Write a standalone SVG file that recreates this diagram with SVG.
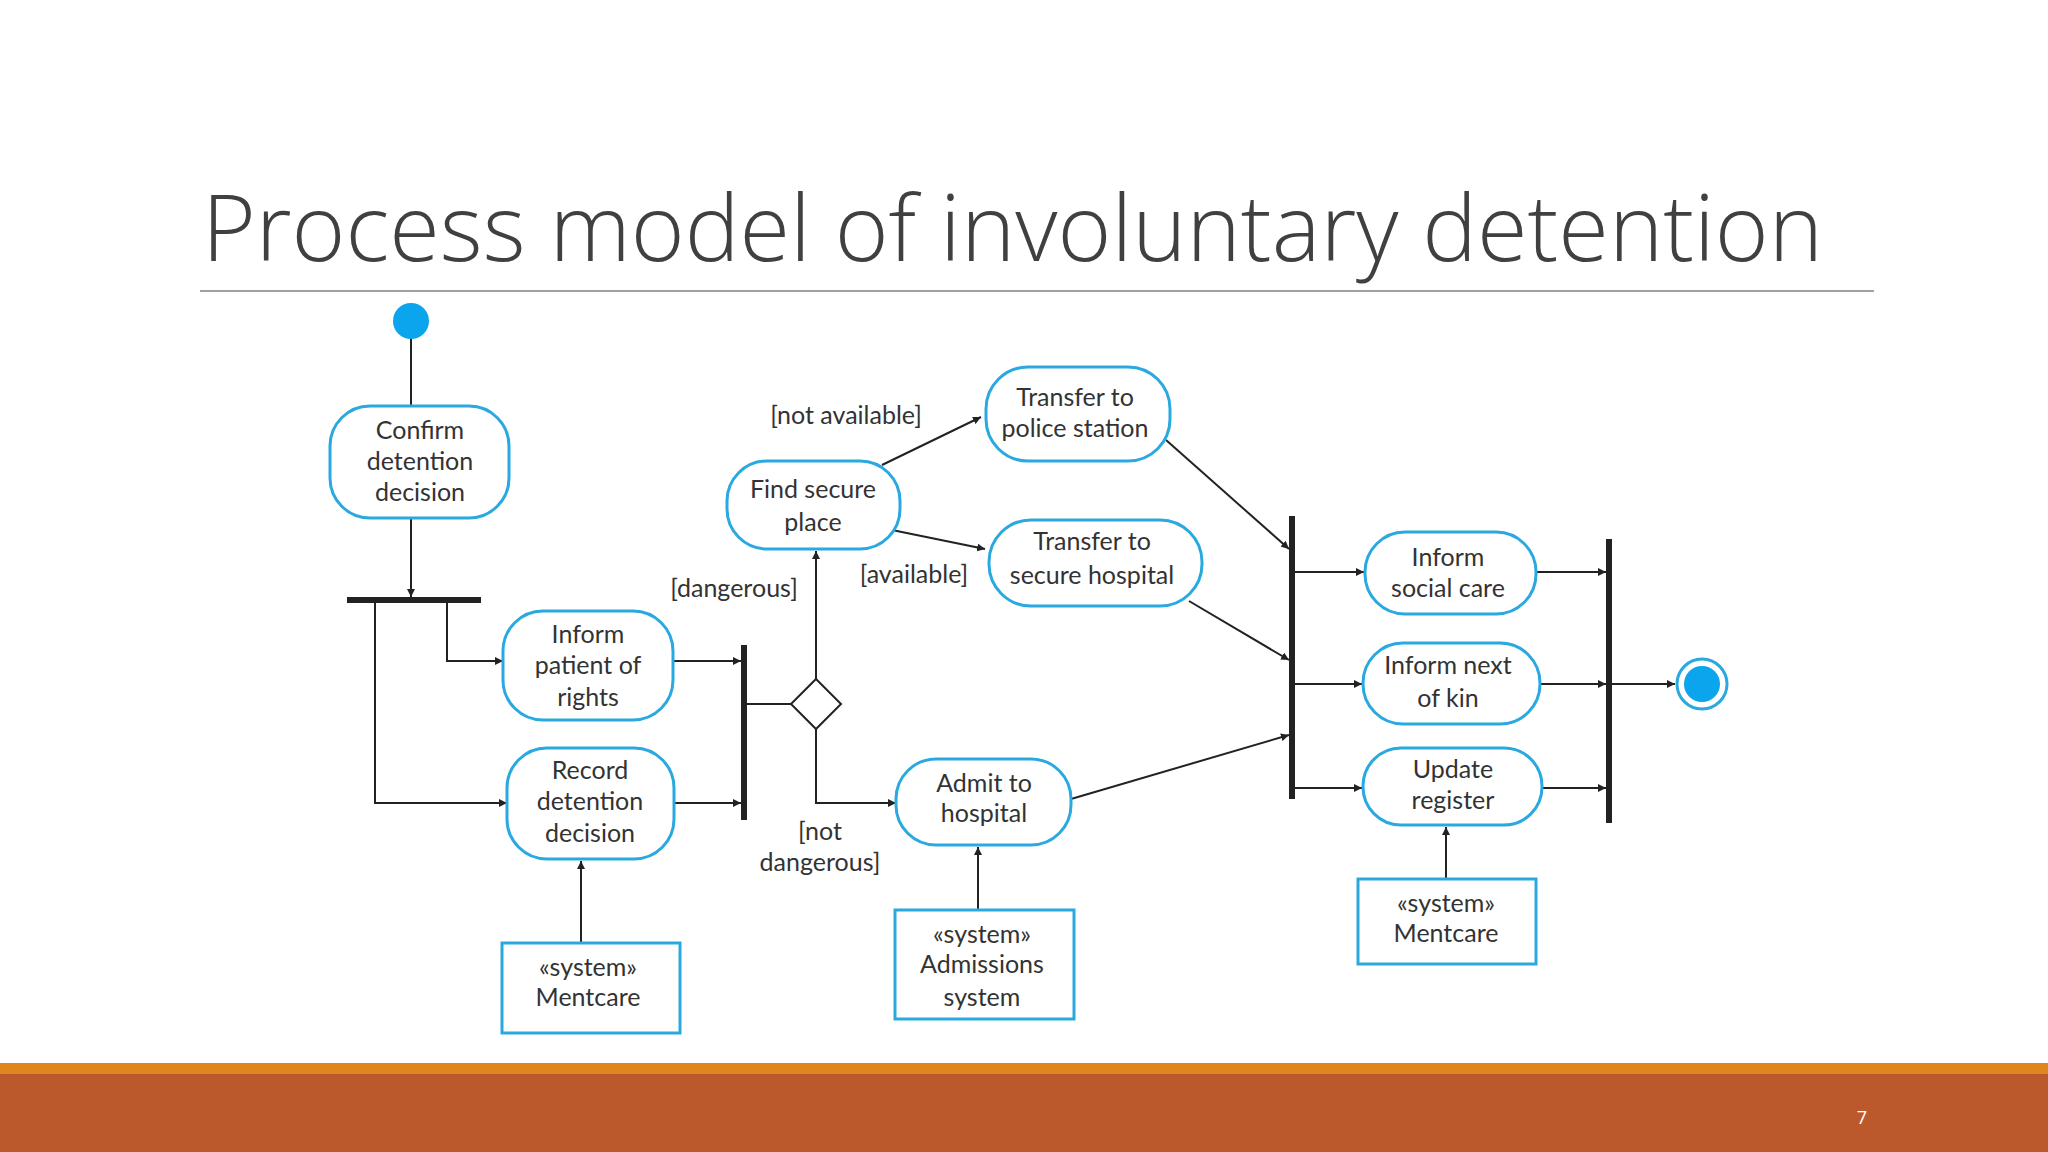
<svg xmlns="http://www.w3.org/2000/svg" width="2048" height="1152" viewBox="0 0 2048 1152">
<style>
.n{fill:#fff;stroke:#29a9e0;stroke-width:3}
.t{font-family:Lato,"Open Sans",sans-serif;font-size:25px;fill:#333;text-anchor:middle}
.c{stroke:#222;stroke-width:2;fill:none}
.bar{fill:#222}
</style>
<defs>
<marker id="a" viewBox="0 0 10 10" refX="10" refY="5" markerWidth="8" markerHeight="8" orient="auto-start-reverse" markerUnits="userSpaceOnUse"><path d="M0,0 L10,5 L0,10 z" fill="#222"/></marker>
</defs>
<rect width="2048" height="1152" fill="#fff"/>
<text x="202" y="261" font-family="'Open Sans',sans-serif" font-weight="300" font-size="92" fill="#404040">Process model of involuntary detention</text>
<line x1="200" y1="291" x2="1874" y2="291" stroke="#a0a0a0" stroke-width="2"/>
<rect x="0" y="1063" width="2048" height="11" fill="#e0861e"/>
<rect x="0" y="1074" width="2048" height="78" fill="#bb582c"/>
<text x="1862" y="1124" font-family="'Open Sans',sans-serif" font-size="18" fill="#fff" text-anchor="middle">7</text>

<g id="connectors">
<line class="c" x1="411" y1="321" x2="411" y2="406"/>
<line class="c" x1="411" y1="518" x2="411" y2="597" marker-end="url(#a)"/>
<polyline class="c" points="447,602 447,661 503,661" marker-end="url(#a)"/>
<polyline class="c" points="375,602 375,803 507,803" marker-end="url(#a)"/>
<line class="c" x1="673" y1="661" x2="741" y2="661" marker-end="url(#a)"/>
<line class="c" x1="674" y1="803" x2="741" y2="803" marker-end="url(#a)"/>
<line class="c" x1="747" y1="704" x2="791" y2="704"/>
<line class="c" x1="816" y1="679" x2="816" y2="551" marker-end="url(#a)"/>
<polyline class="c" points="816,729 816,803 896,803" marker-end="url(#a)"/>
<line class="c" x1="882" y1="465" x2="981" y2="417" marker-end="url(#a)"/>
<line class="c" x1="892" y1="530" x2="985" y2="549" marker-end="url(#a)"/>
<line class="c" x1="1166" y1="440" x2="1289" y2="549" marker-end="url(#a)"/>
<line class="c" x1="1189" y1="601" x2="1289" y2="660" marker-end="url(#a)"/>
<line class="c" x1="1071" y1="799" x2="1289" y2="735" marker-end="url(#a)"/>
<line class="c" x1="978" y1="910" x2="978" y2="847" marker-end="url(#a)"/>
<line class="c" x1="581" y1="943" x2="581" y2="861" marker-end="url(#a)"/>
<line class="c" x1="1446" y1="879" x2="1446" y2="827" marker-end="url(#a)"/>
<line class="c" x1="1295" y1="572" x2="1364" y2="572" marker-end="url(#a)"/>
<line class="c" x1="1295" y1="684" x2="1362" y2="684" marker-end="url(#a)"/>
<line class="c" x1="1295" y1="788" x2="1362" y2="788" marker-end="url(#a)"/>
<line class="c" x1="1536" y1="572" x2="1606" y2="572" marker-end="url(#a)"/>
<line class="c" x1="1540" y1="684" x2="1606" y2="684" marker-end="url(#a)"/>
<line class="c" x1="1542" y1="788" x2="1606" y2="788" marker-end="url(#a)"/>
<line class="c" x1="1612" y1="684" x2="1675" y2="684" marker-end="url(#a)"/>
<text class="t" x="846" y="424">[not available]</text>
<text class="t" x="914" y="583">[available]</text>
<text class="t" x="734" y="597">[dangerous]</text>
<text class="t" x="820" y="840">[not</text>
<text class="t" x="820" y="871">dangerous]</text>
</g>

<g id="start"><circle cx="411" cy="321" r="18" fill="#0aa5ec"/></g>
<g id="fork1"><rect class="bar" x="347" y="597" width="134" height="6"/></g>
<g id="join1"><rect class="bar" x="741" y="645" width="6" height="175"/></g>
<g id="decision"><polygon points="816,679 841,704 816,729 791,704" fill="#fff" stroke="#222" stroke-width="2"/></g>
<g id="fork2"><rect class="bar" x="1289" y="516" width="6" height="283"/></g>
<g id="join2"><rect class="bar" x="1606" y="539" width="6" height="284"/></g>
<g id="end"><circle cx="1702" cy="684" r="25" fill="#fff" stroke="#29a9e0" stroke-width="3"/><circle cx="1702" cy="684" r="18" fill="#0aa5ec"/></g>

<g id="confirm"><rect class="n" x="330" y="406" width="179" height="112" rx="40"/>
<text class="t" x="420" y="439">Confirm</text><text class="t" x="420" y="470">detention</text><text class="t" x="420" y="501">decision</text></g>
<g id="inform-patient"><rect class="n" x="503" y="611" width="170" height="109" rx="40"/>
<text class="t" x="588" y="643">Inform</text><text class="t" x="588" y="674">patient of</text><text class="t" x="588" y="706">rights</text></g>
<g id="record"><rect class="n" x="507" y="748" width="167" height="111" rx="40"/>
<text class="t" x="590" y="779">Record</text><text class="t" x="590" y="810">detention</text><text class="t" x="590" y="842">decision</text></g>
<g id="find"><rect class="n" x="727" y="461" width="173" height="88" rx="40"/>
<text class="t" x="813" y="498">Find secure</text><text class="t" x="813" y="531">place</text></g>
<g id="police"><rect class="n" x="986" y="367" width="184" height="94" rx="42"/>
<text class="t" x="1075" y="406">Transfer to</text><text class="t" x="1075" y="437">police station</text></g>
<g id="hospital"><rect class="n" x="989" y="520" width="213" height="86" rx="42"/>
<text class="t" x="1092" y="550">Transfer to</text><text class="t" x="1092" y="584">secure hospital</text></g>
<g id="admit"><rect class="n" x="896" y="759" width="175" height="86" rx="40"/>
<text class="t" x="984" y="792">Admit to</text><text class="t" x="984" y="822">hospital</text></g>
<g id="admissions"><rect class="n" x="895" y="910" width="179" height="109" rx="0"/>
<text class="t" x="982" y="943">«system»</text><text class="t" x="982" y="973">Admissions</text><text class="t" x="982" y="1006">system</text></g>
<g id="mentcare1"><rect class="n" x="502" y="943" width="178" height="90" rx="0"/>
<text class="t" x="588" y="976">«system»</text><text class="t" x="588" y="1006">Mentcare</text></g>
<g id="social"><rect class="n" x="1365" y="532" width="171" height="82" rx="40"/>
<text class="t" x="1448" y="566">Inform</text><text class="t" x="1448" y="597">social care</text></g>
<g id="kin"><rect class="n" x="1363" y="643" width="177" height="81" rx="40"/>
<text class="t" x="1448" y="674">Inform next</text><text class="t" x="1448" y="707">of kin</text></g>
<g id="update"><rect class="n" x="1363" y="748" width="179" height="77" rx="38"/>
<text class="t" x="1453" y="778">Update</text><text class="t" x="1453" y="809">register</text></g>
<g id="mentcare2"><rect class="n" x="1358" y="879" width="178" height="85" rx="0"/>
<text class="t" x="1446" y="912">«system»</text><text class="t" x="1446" y="942">Mentcare</text></g>
</svg>
